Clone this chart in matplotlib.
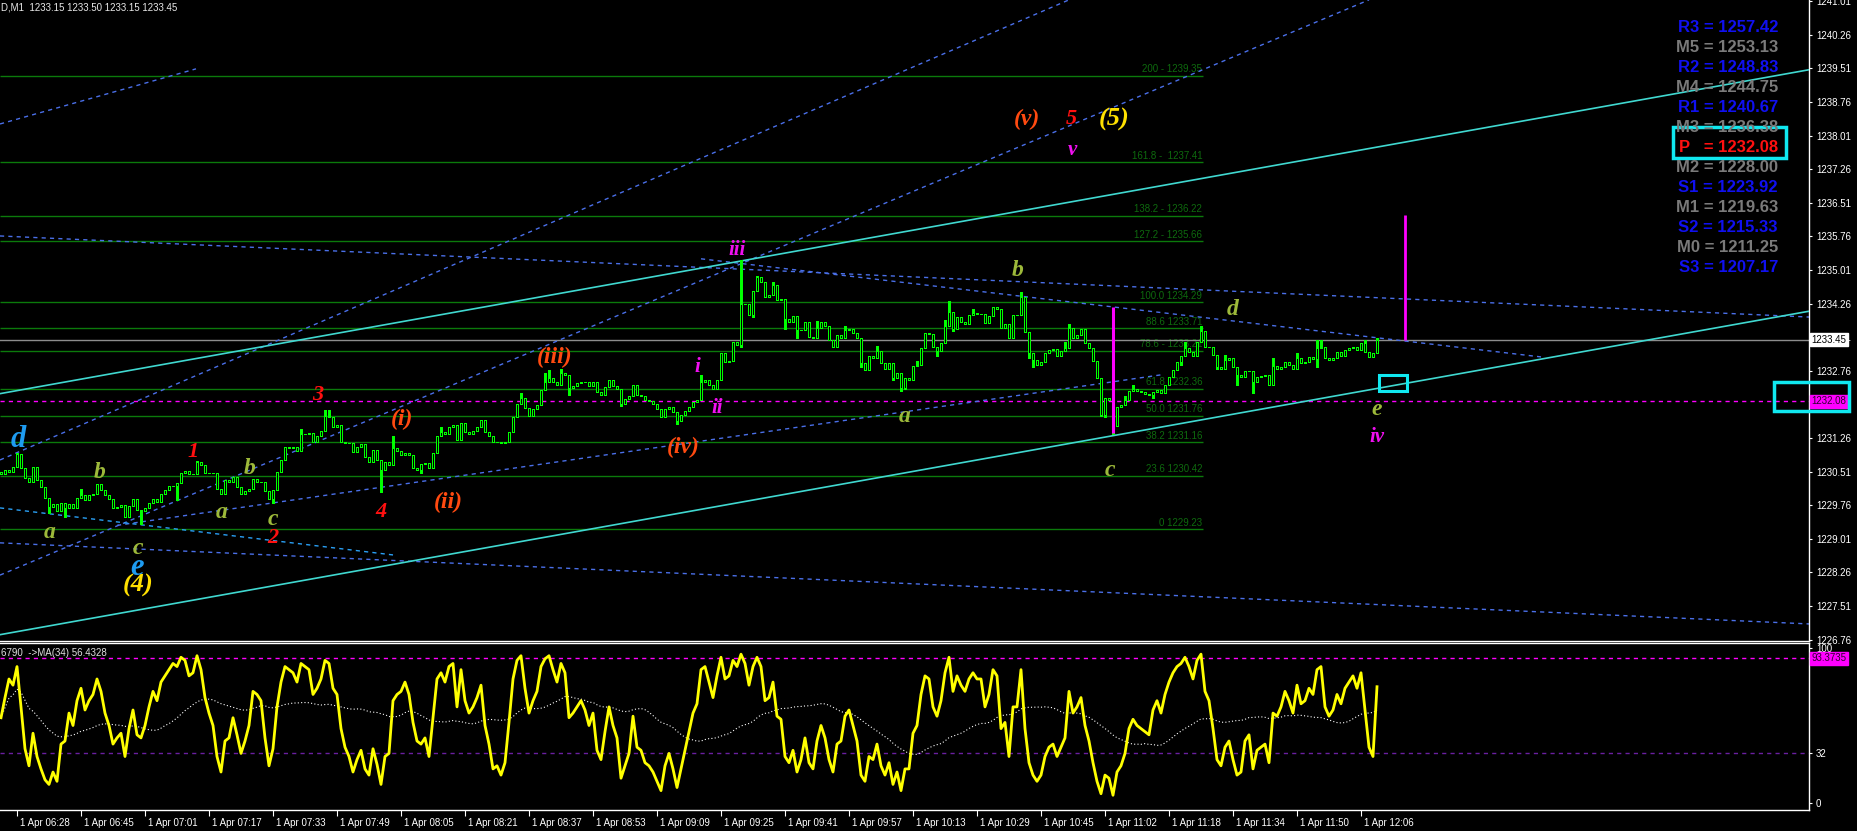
import matplotlib
matplotlib.use("Agg")
import matplotlib.pyplot as plt
import matplotlib.transforms as mtransforms
from matplotlib.patches import Rectangle
import pandas as pd

# M1 closes, one per bar (bar 0 = 06:24)
closes = [
    1230.45, 1230.55, 1230.50, 1230.62, 1230.90, 1230.58, 1230.36, 1230.28, 1230.62, 1230.33,  # 0
    1230.17, 1229.92, 1229.72, 1229.78, 1229.62, 1229.80, 1229.70, 1229.78, 1229.70, 1229.92,  # 10
    1229.98, 1229.88, 1229.99, 1230.02, 1230.23, 1230.11, 1229.98, 1229.90, 1229.70, 1229.72,  # 20
    1229.76, 1229.50, 1229.74, 1229.90, 1229.66, 1229.64, 1229.70, 1229.82, 1229.90, 1229.84,  # 30
    1230.02, 1230.10, 1230.18, 1230.18, 1230.26, 1230.48, 1230.52, 1230.45, 1230.45, 1230.72,  # 40
    1230.66, 1230.48, 1230.48, 1230.48, 1230.12, 1230.00, 1230.32, 1230.28, 1230.40, 1230.16,  # 50
    1230.00, 1230.08, 1230.12, 1230.34, 1230.28, 1230.27, 1230.08, 1229.90, 1230.10, 1230.50,  # 60
    1230.76, 1231.06, 1231.04, 1231.05, 1230.98, 1231.36, 1231.34, 1231.37, 1231.18, 1231.30,  # 70
    1231.42, 1231.76, 1231.72, 1231.50, 1231.56, 1231.18, 1231.14, 1231.14, 1230.94, 1231.05,  # 80
    1231.12, 1230.84, 1230.73, 1231.00, 1230.78, 1230.54, 1230.72, 1230.66, 1231.03, 1230.98,  # 90
    1230.88, 1230.92, 1230.88, 1230.60, 1230.55, 1230.68, 1230.70, 1230.60, 1230.92, 1231.30,  # 100
    1231.40, 1231.35, 1231.51, 1231.55, 1231.22, 1231.60, 1231.40, 1231.36, 1231.42, 1231.50,  # 110
    1231.66, 1231.40, 1231.30, 1231.16, 1231.18, 1231.14, 1231.18, 1231.40, 1231.72, 1232.02,  # 120
    1232.15, 1231.92, 1231.75, 1231.90, 1232.00, 1232.34, 1232.50, 1232.60, 1232.52, 1232.45,  # 130
    1232.70, 1232.66, 1232.38, 1232.42, 1232.48, 1232.52, 1232.50, 1232.42, 1232.52, 1232.28,  # 140
    1232.22, 1232.40, 1232.55, 1232.42, 1232.36, 1232.02, 1232.12, 1232.20, 1232.44, 1232.22,  # 150
    1232.20, 1232.10, 1232.08, 1232.03, 1231.90, 1231.72, 1231.90, 1231.96, 1231.85, 1231.65,  # 160
    1231.78, 1231.86, 1231.95, 1232.06, 1232.10, 1232.50, 1232.55, 1232.45, 1232.36, 1232.55,  # 170
    1233.16, 1232.95, 1232.97, 1233.40, 1233.33, 1234.26, 1234.25, 1234.00, 1234.55, 1234.85,  # 180
    1234.75, 1234.40, 1234.45, 1234.67, 1234.34, 1234.36, 1233.92, 1233.86, 1233.98, 1233.68,  # 190
    1233.66, 1233.85, 1233.52, 1233.50, 1233.72, 1233.85, 1233.75, 1233.45, 1233.30, 1233.55,  # 200
    1233.50, 1233.68, 1233.70, 1233.60, 1233.49, 1232.93, 1232.78, 1233.10, 1233.05, 1233.20,  # 210
    1232.93, 1232.80, 1232.93, 1232.60, 1232.72, 1232.38, 1232.60, 1232.56, 1232.87, 1232.90,  # 220
    1233.26, 1233.60, 1233.58, 1233.29, 1233.20, 1233.38, 1233.76, 1234.08, 1233.70, 1233.95,  # 230
    1233.84, 1233.80, 1234.00, 1234.06, 1234.02, 1234.03, 1233.82, 1233.98, 1234.18, 1234.15,  # 240
    1233.72, 1233.80, 1233.50, 1234.00, 1234.00, 1234.40, 1233.62, 1233.15, 1233.00, 1232.90,  # 250
    1232.95, 1233.15, 1233.22, 1233.24, 1233.10, 1233.20, 1233.26, 1233.72, 1233.50, 1233.55,  # 260
    1233.70, 1233.38, 1233.27, 1232.98, 1232.60, 1231.78, 1232.15, 1232.10, 1231.52, 1231.96,  # 270
    1232.00, 1232.10, 1232.32, 1232.36, 1232.30, 1232.28, 1232.24, 1232.22, 1232.28, 1232.33,  # 280
    1232.26, 1232.45, 1232.62, 1232.77, 1232.95, 1233.08, 1233.26, 1233.18, 1233.10, 1233.40,  # 290
    1233.65, 1233.30, 1233.30, 1233.12, 1232.85, 1232.80, 1233.00, 1233.05, 1232.85, 1232.67,  # 300
    1232.62, 1232.76, 1232.75, 1232.50, 1232.63, 1232.65, 1232.66, 1232.45, 1232.87, 1232.80,  # 310
    1232.84, 1232.95, 1232.88, 1232.79, 1233.05, 1232.93, 1232.96, 1233.06, 1233.02, 1233.26,  # 320
    1233.30, 1233.05, 1233.00, 1233.05, 1233.17, 1233.10, 1233.22, 1233.26, 1233.30, 1233.22,  # 330
    1233.38, 1233.17, 1233.06, 1233.15, 1233.45,                                               # 340
]
first_open = 1230.50

# wicks that stick out of the bodies
wick_highs = {4: 1230.93, 20: 1230.12, 49: 1230.74, 75: 1231.45, 81: 1231.88, 82: 1231.88,
              98: 1231.30, 110: 1231.50, 130: 1232.26, 136: 1232.70, 137: 1232.78, 140: 1232.80,
              175: 1232.66, 185: 1235.23, 189: 1234.88, 193: 1234.75, 204: 1233.88, 211: 1233.75,
              219: 1233.32, 229: 1232.98, 236: 1233.90, 237: 1234.32, 243: 1234.13, 255: 1234.52,
              266: 1233.40, 267: 1233.80, 281: 1232.20, 283: 1232.45, 296: 1233.40, 300: 1233.75,
              306: 1233.12, 318: 1233.05, 324: 1233.15, 329: 1233.45, 330: 1233.45, 341: 1233.45,
              344: 1233.50}
wick_lows = {12: 1229.58, 16: 1229.50, 35: 1229.35, 44: 1229.88, 68: 1229.82, 95: 1230.06,
             105: 1230.48, 142: 1232.22, 155: 1231.98, 169: 1231.57, 185: 1233.30, 188: 1233.95,
             196: 1233.70, 199: 1233.50, 215: 1232.85, 223: 1232.55, 225: 1232.30, 226: 1232.35,
             234: 1233.08, 238: 1233.65, 257: 1233.05, 258: 1232.85, 275: 1231.75, 276: 1231.72,
             278: 1231.36, 288: 1232.15, 295: 1232.90, 304: 1232.80, 309: 1232.45, 313: 1232.27,
             318: 1232.55, 329: 1232.85, 344: 1233.15}

# oscillator in the lower window, one value per bar
osc = [
    55, 68, 80, 76, 88, 62, 35, 24, 45, 30,      # 0
    22, 15, 12, 20, 14, 38, 40, 58, 50, 66,      # 10
    74, 60, 66, 70, 80, 72, 58, 50, 38, 42,      # 20
    45, 30, 48, 60, 44, 42, 50, 62, 72, 66,      # 30
    78, 82, 86, 90, 88, 94, 92, 82, 84, 95,      # 40
    86, 68, 58, 50, 30, 20, 40, 42, 55, 44,      # 50
    32, 40, 50, 72, 70, 66, 42, 24, 35, 62,      # 60
    78, 88, 86, 84, 78, 90, 88, 86, 70, 74,      # 70
    80, 92, 90, 74, 70, 48, 36, 30, 20, 28,      # 80
    34, 22, 18, 35, 25, 12, 30, 32, 66, 70,      # 90
    72, 78, 70, 52, 40, 38, 42, 30, 55, 80,      # 100
    84, 78, 88, 90, 62, 86, 66, 58, 62, 68,      # 110
    76, 50, 38, 22, 24, 18, 26, 52, 80, 92,      # 120
    95, 74, 58, 66, 72, 88, 93, 95, 86, 78,      # 130
    90, 84, 55, 58, 62, 66, 60, 50, 58, 34,      # 140
    28, 46, 62, 50, 42, 16, 24, 32, 56, 36,      # 150
    34, 26, 24, 20, 14, 8, 24, 32, 22, 10,       # 160
    22, 34, 46, 58, 64, 86, 88, 78, 68, 82,      # 170
    94, 80, 82, 92, 88, 96, 90, 76, 88, 94,      # 180
    88, 66, 68, 78, 56, 54, 30, 26, 34, 20,      # 190
    28, 42, 26, 22, 40, 50, 42, 28, 20, 38,      # 200
    40, 56, 60, 50, 40, 18, 14, 30, 28, 38,      # 210
    24, 18, 26, 12, 20, 8, 22, 22, 45, 50,       # 220
    70, 82, 80, 62, 56, 66, 84, 94, 72, 82,      # 230
    76, 72, 80, 84, 80, 80, 62, 70, 86, 82,      # 240
    48, 52, 30, 62, 62, 86, 48, 26, 18, 14,      # 250
    18, 30, 36, 38, 30, 36, 42, 72, 58, 62,      # 260
    68, 50, 40, 26, 14, 6, 18, 16, 5, 20,        # 270
    24, 32, 48, 54, 50, 48, 46, 44, 60, 66,      # 280
    58, 70, 78, 84, 88, 90, 94, 88, 80, 92,      # 290
    96, 72, 66, 48, 28, 24, 36, 40, 28, 18,      # 300
    20, 40, 44, 22, 34, 36, 38, 26, 58, 56,      # 310
    62, 72, 66, 58, 76, 64, 66, 74, 70, 86,      # 320
    88, 62, 56, 60, 70, 64, 74, 78, 82, 74,      # 330
    84, 60, 36, 30, 75,                          # 340
]

time_labels = ["1 Apr 06:28", "1 Apr 06:45", "1 Apr 07:01", "1 Apr 07:17", "1 Apr 07:33",
               "1 Apr 07:49", "1 Apr 08:05", "1 Apr 08:21", "1 Apr 08:37", "1 Apr 08:53",
               "1 Apr 09:09", "1 Apr 09:25", "1 Apr 09:41", "1 Apr 09:57", "1 Apr 10:13",
               "1 Apr 10:29", "1 Apr 10:45", "1 Apr 11:02", "1 Apr 11:18", "1 Apr 11:34",
               "1 Apr 11:50", "1 Apr 12:06"]
time_label_bars = [4 + 16 * k for k in range(len(time_labels))]

price_ticks = [1226.76, 1227.51, 1228.26, 1229.01, 1229.76, 1230.51, 1231.26, 1232.01,
               1232.76, 1233.51, 1234.26, 1235.01, 1235.76, 1236.51, 1237.26, 1238.01,
               1238.76, 1239.51, 1240.26, 1241.01]
bid = 1233.45
pivot_p = 1232.08
osc_level_hi = 93.3735
osc_level_lo = 32

fib_prices = [1239.35, 1237.41, 1236.22, 1235.66, 1234.29, 1233.71, 1233.21,
              1232.36, 1231.76, 1231.16, 1230.42, 1229.23]
fib_texts = ["200 - 1239.35", "161.8 -  1237.41", "138.2 - 1236.22", "127.2 - 1235.66",
             "100.0 1234.29", "88.6 1233.71", "78.6 - 1233.21", "61.8 1232.36",
             "50.0 1231.76", "38.2 1231.16", "23.6 1230.42", "0 1229.23"]

pivot_names = ["R3", "M5", "R2", "M4", "R1", "M3", "P  ", "M2", "S1", "M1", "S2", "M0", "S3"]
pivot_values = [1257.42, 1253.13, 1248.83, 1244.75, 1240.67, 1236.38, 1232.08,
                1228.00, 1223.92, 1219.63, 1215.33, 1211.25, 1207.17]

# trend lines: (bar, price) -> (bar, price)
channel_lines = [((-0.25, 1232.25), (452, 1239.48)),
                 ((-0.25, 1226.87), (452, 1234.09))]
dashed_lines = [((-0.25, 1238.27), (48.75, 1239.50)),
                ((-0.25, 1230.77), (267, 1241.04)),
                ((-0.25, 1228.20), (342, 1241.04)),
                ((29, 1229.31), (290, 1232.67)),
                ((-0.25, 1228.92), (452, 1227.11)),
                ((-0.25, 1235.77), (452, 1233.96)),
                ((175, 1235.26), (385, 1233.07))]
light_dashed = [((-0.25, 1229.70), (98, 1228.65))]

# Elliott wave labels
waves = [
    ("d", 4.25, 1231.22, "#1E9BF0", 22), ("e", 34, 1228.38, "#1E9BF0", 22),
    ("(4)", 34.25, 1227.96, "#FFE000", 19), ("(5)", 278.25, 1238.38, "#FFE000", 19),
    ("a", 12.25, 1229.14, "#9DB93A", 17), ("b", 24.75, 1230.50, "#9DB93A", 17),
    ("c", 34.25, 1228.80, "#9DB93A", 17), ("a", 55.25, 1229.59, "#9DB93A", 17),
    ("b", 62.25, 1230.57, "#9DB93A", 17), ("c", 68, 1229.43, "#9DB93A", 17),
    ("a", 226, 1231.75, "#9DB93A", 17), ("b", 254.25, 1235.01, "#9DB93A", 17),
    ("c", 277.25, 1230.54, "#9DB93A", 17), ("d", 308, 1234.12, "#9DB93A", 17),
    ("e", 344, 1231.89, "#9DB93A", 17),
    ("1", 48, 1230.95, "#FF1010", 16), ("2", 68, 1229.03, "#FF1010", 16),
    ("3", 79.25, 1232.22, "#FF1010", 16), ("4", 95, 1229.61, "#FF1010", 16),
    ("5", 267.5, 1238.38, "#FF1010", 16),
    ("(i)", 100.25, 1231.68, "#FF4A10", 17), ("(ii)", 111.75, 1229.83, "#FF4A10", 17),
    ("(iii)", 138.5, 1233.05, "#FF4A10", 17), ("(iv)", 170.5, 1231.04, "#FF4A10", 17),
    ("(v)", 256.5, 1238.38, "#FF4A10", 17),
    ("i", 174, 1232.85, "#F010F0", 15), ("ii", 179, 1231.93, "#F010F0", 15),
    ("iii", 184, 1235.46, "#F010F0", 15), ("iv", 344, 1231.28, "#F010F0", 15),
    ("v", 267.75, 1237.69, "#F010F0", 15),
]

LIME = "#00FF00"
CYAN = "#40D8D0"
AQUA = "#10E8F0"
BLUE_DASH = "#4A6FE8"
FIB_GREEN = "#0B7A0B"
MAGENTA = "#FF00FF"
SANS = ["Liberation Sans", "DejaVu Sans"]
SERIF = ["Liberation Serif", "DejaVu Serif"]

W, H = 1858, 831
fig = plt.figure(figsize=(W / 100, H / 100), dpi=100, facecolor="black")


def pixel_axes(x0, y0, x1, y1):
    return fig.add_axes([x0 / W, 1 - y1 / H, (x1 - x0) / W, (y1 - y0) / H], facecolor="black")


ax = pixel_axes(0, 0, 1809, 641)
ind = pixel_axes(0, 643, 1809, 810)

ax.set_xlim(-0.25, 452)
ax.set_ylim(1226.729, 1241.037)
ind.set_xlim(-0.25, 452)
ind.set_ylim(-4.5, 103.2)

# fibonacci levels
ax.hlines(fib_prices, -0.25, 300.5, color=FIB_GREEN, lw=1, zorder=1)
for p, t in zip(fib_prices, fib_texts):
    ax.text(300.3, p + 0.03, t, color="#0E6A0E", fontsize=7, family=SANS,
            ha="right", va="bottom", zorder=1)

ax.axhline(bid, color="#8C8C8C", lw=1, zorder=1)
ax.axhline(pivot_p, color=MAGENTA, lw=1, ls=(0, (3, 3)), zorder=1)

for (x0, y0), (x1, y1) in dashed_lines:
    ax.plot([x0, x1], [y0, y1], color=BLUE_DASH, lw=1, ls=(0, (3, 3)), zorder=2)
for (x0, y0), (x1, y1) in light_dashed:
    ax.plot([x0, x1], [y0, y1], color="#2AA0F5", lw=1, ls=(0, (3, 3)), zorder=2)
for (x0, y0), (x1, y1) in channel_lines:
    ax.plot([x0, x1], [y0, y1], color=CYAN, lw=1.2, zorder=3)

# candles: lime outline, black body
opens = [first_open] + closes[:-1]
highs = [max(o, c) for o, c in zip(opens, closes)]
lows = [min(o, c) for o, c in zip(opens, closes)]
for i, h in wick_highs.items():
    highs[i] = max(highs[i], h)
for i, lo in wick_lows.items():
    lows[i] = min(lows[i], lo)
bars = list(range(len(closes)))
ax.vlines(bars, lows, highs, color=LIME, lw=0.75, zorder=4, antialiased=False)
ax.bar(bars, [abs(c - o) for o, c in zip(opens, closes)],
       bottom=[min(o, c) for o, c in zip(opens, closes)], width=0.5,
       color="black", edgecolor=LIME, linewidth=0.7, zorder=5, antialiased=False)

# marker lines and boxes
ax.vlines(278, 1231.37, 1234.18, color=MAGENTA, lw=2.2, zorder=6)
ax.vlines(351, bid, 1236.24, color=MAGENTA, lw=2, zorder=6)
ax.add_patch(Rectangle((344.5, 1232.31), 7, 0.36, fill=False, ec=AQUA, lw=2.2, zorder=6))

for txt, bx, py, col, size in waves:
    ax.text(bx, py, txt, color=col, fontsize=size, family=SERIF, style="italic",
            weight="bold", ha="center", va="center", zorder=7)

# axes styling
for a in (ax, ind):
    for s in a.spines.values():
        s.set_color("white")
        s.set_linewidth(1)
    a.spines["left"].set_visible(False)
ax.spines["top"].set_visible(False)
ax.set_xticks([])
ax.yaxis.tick_right()
ax.set_yticks(price_ticks)
ax.set_yticklabels([f"{v:.2f}" for v in price_ticks], family=SANS)
ax.tick_params(axis="y", colors="white", labelsize=7, length=2, pad=3)

trans_r = mtransforms.blended_transform_factory(ax.transAxes, ax.transData)
ax.text(1.0015, bid, f"{bid:.2f}", transform=trans_r, fontsize=7, family=SANS, color="black",
        ha="left", va="center", zorder=8,
        bbox=dict(boxstyle="square,pad=0.15", fc="white", ec="white"))
ax.text(1.0015, pivot_p, f"{pivot_p:.2f}", transform=trans_r, fontsize=7, family=SANS,
        color="#300030", ha="left", va="center", zorder=8,
        bbox=dict(boxstyle="square,pad=0.15", fc=MAGENTA, ec=MAGENTA))

# indicator panel
osc_ma = pd.Series(osc, dtype=float).rolling(34, min_periods=1).mean()
ind.axhline(osc_level_hi, color=MAGENTA, lw=1, ls=(0, (3, 3)))
ind.axhline(osc_level_lo, color="#6A1FA0", lw=1, ls=(0, (3, 3)))
ind.plot(bars, osc_ma, color="white", lw=0.8, ls=(0, (1, 2)), zorder=3)
ind.plot(bars, osc, color="#FFFF00", lw=2, zorder=4)
ind.yaxis.tick_right()
ind.set_yticks([0, 32, 100])
ind.set_yticklabels(["0", "32", "100"], family=SANS)
ind.tick_params(axis="y", colors="white", labelsize=7, length=2, pad=3)
trans_i = mtransforms.blended_transform_factory(ind.transAxes, ind.transData)
ind.text(1.0015, osc_level_hi, f"{osc_level_hi:.4f}", transform=trans_i, fontsize=7,
         family=SANS, color="#300030", ha="left", va="center", zorder=8,
         bbox=dict(boxstyle="square,pad=0.15", fc=MAGENTA, ec=MAGENTA))
ind.text(0.0005, 0.97, "6790  ->MA(34) 56.4328", transform=ind.transAxes, fontsize=7,
         family=SANS, color="#E0E0E0", ha="left", va="top", zorder=5)

ind.set_xticks(time_label_bars)
ind.set_xticklabels(time_labels, family=SANS, ha="left")
ind.tick_params(axis="x", colors="white", labelsize=7, length=4, pad=2)
shift = mtransforms.ScaledTranslation(3 / 100, 0, fig.dpi_scale_trans)
for lbl in ind.get_xticklabels():
    lbl.set_transform(lbl.get_transform() + shift)

# header and pivot table
fig.text(1 / W, 1 - 7 / H, "D,M1  1233.15 1233.50 1233.15 1233.45", color="#E8E8E8",
         fontsize=7, family=SANS, ha="left", va="center")
for k, (name, val) in enumerate(zip(pivot_names, pivot_values)):
    col = "#7A7A7A" if name.startswith("M") else "#1010F0"
    if name.startswith("P"):
        col = "#FF1010"
    fig.text(1778 / W, 1 - (27 + 20 * k) / H, f"{name} = {val:.2f}", color=col, fontsize=12,
             family=SANS, weight="bold", ha="right", va="center")
fig.patches.append(Rectangle((1673 / W, 1 - 158 / H), 113 / W, 31 / H, transform=fig.transFigure,
                             fill=False, ec=AQUA, lw=2.5))
fig.patches.append(Rectangle((1774 / W, 1 - 411 / H), 75 / W, 29 / H, transform=fig.transFigure,
                             fill=False, ec=AQUA, lw=2.5, zorder=9))

fig.savefig("out.png", dpi=100, facecolor="black")
